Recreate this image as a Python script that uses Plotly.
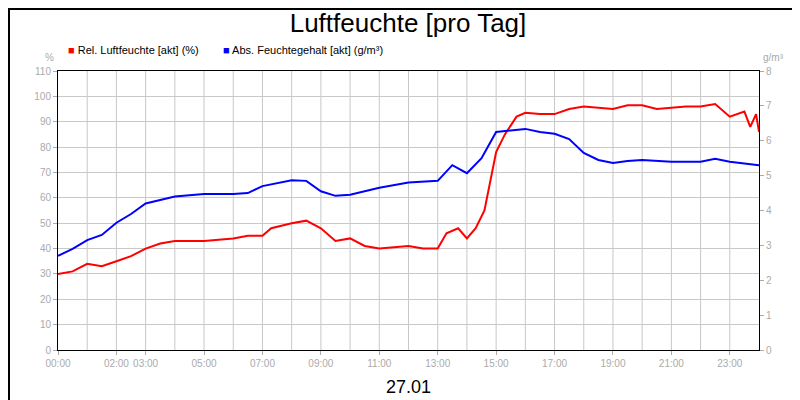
import plotly.graph_objects as go

rel_h = [0,0.5,1,1.5,2,2.5,3,3.5,4,5,6,6.5,7,7.3,8,8.5,9,9.5,10,10.5,11,12,12.5,13,13.3,13.7,14,14.3,14.6,15,15.3,15.7,16,16.5,17,17.5,18,18.5,19,19.5,20,20.5,21,21.5,22,22.5,23,23.5,23.7,23.9,24]
rel_v = [30,31,34,33,35,37,40,42,43,43,44,45,45,48,50,51,48,43,44,41,40,41,40,40,46,48,44,48,55,78,85,92,93.5,93,93,95,96,95.5,95,96.5,96.5,95,95.5,96,96,97,92,94,88,93,86]
abs_h = [0,0.5,1,1.5,2,2.5,3,3.5,4,5,6,6.5,7,8,8.5,9,9.5,10,11,12,13,13.5,14,14.5,15,16,16.5,17,17.5,18,18.5,19,19.5,20,21,22,22.5,23,24]
abs_v = [2.7,2.9,3.15,3.3,3.65,3.9,4.2,4.3,4.4,4.47,4.47,4.5,4.7,4.87,4.85,4.55,4.42,4.45,4.65,4.8,4.85,5.3,5.07,5.5,6.25,6.34,6.25,6.2,6.05,5.65,5.45,5.36,5.42,5.45,5.4,5.4,5.48,5.4,5.3]
tick_vals = [0,2,3,5,7,9,11,13,15,17,19,21,23]
tick_text = ["00:00","02:00","03:00","05:00","07:00","09:00","11:00","13:00","15:00","17:00","19:00","21:00","23:00"]

fig = go.Figure()
fig.add_trace(go.Scatter(x=rel_h, y=rel_v, mode="lines", line=dict(color="#ff0000", width=2), showlegend=False))
fig.add_trace(go.Scatter(x=abs_h, y=abs_v, mode="lines", line=dict(color="#0000ff", width=2), yaxis="y2", showlegend=False))
gc = "#c8c8c8"
tf = dict(family="Liberation Sans, Arial", size=10, color="#aaaaaa")
fig.update_layout(
    width=800, height=400, margin=dict(l=50, r=49, t=63, b=58, autoexpand=False),
    plot_bgcolor="white", paper_bgcolor="white",
    title=dict(text="Luftfeuchte [pro Tag]", x=0.5, y=0.985, yanchor="top", font=dict(family="Liberation Sans, Arial", size=26, color="black")),
    xaxis=dict(range=[0,24], tickvals=tick_vals, ticktext=tick_text, showgrid=False, tickfont=tf, ticks="outside", ticklen=4, tickcolor="#aaaaaa",
               tickangle=0, automargin=False, showline=True, linecolor="black", mirror=True, zeroline=False),
    yaxis=dict(range=[0,110], dtick=10, gridcolor=gc, tickfont=tf, ticks="outside", ticklen=4, tickcolor="#aaaaaa", automargin=False,
               showline=True, linecolor="black", zeroline=False),
    yaxis2=dict(range=[0,8], dtick=1, overlaying="y", side="right", showgrid=False, tickfont=tf, ticks="outside", ticklen=4, tickcolor="#aaaaaa",
                automargin=False, showline=True, linecolor="black", zeroline=False),
)
for h in range(1, 24):
    fig.add_shape(type="line", x0=h, x1=h, y0=0, y1=110, xref="x", yref="y", line=dict(color=gc, width=1), layer="below")
fig.add_shape(type="rect", xref="paper", yref="paper", x0=-49/701, x1=1+48/701, y0=-57/279, y1=1+62/279, line=dict(color="black", width=2))
lf = dict(family="Liberation Sans, Arial", size=11, color="black")
fig.add_annotation(xref="paper", yref="paper", x=-0.003, y=1.075, xanchor="right", text="%", showarrow=False, font=tf)
fig.add_annotation(xref="paper", yref="paper", x=1.003, y=1.075, xanchor="left", text="g/m³", showarrow=False, font=tf)
fig.add_annotation(xref="paper", yref="paper", x=0.012, y=1.105, xanchor="left", text="<span style='color:#ff0000'>■</span> Rel. Luftfeuchte [akt] (%)", showarrow=False, font=lf)
fig.add_annotation(xref="paper", yref="paper", x=0.233, y=1.105, xanchor="left", text="<span style='color:#0000ff'>■</span> Abs. Feuchtegehalt [akt] (g/m³)", showarrow=False, font=lf)
fig.add_annotation(xref="paper", yref="paper", x=0.5, y=-0.09, yanchor="top", text="27.01", showarrow=False, font=dict(family="Liberation Sans, Arial", size=18, color="black"))
fig.write_html("out.html")
